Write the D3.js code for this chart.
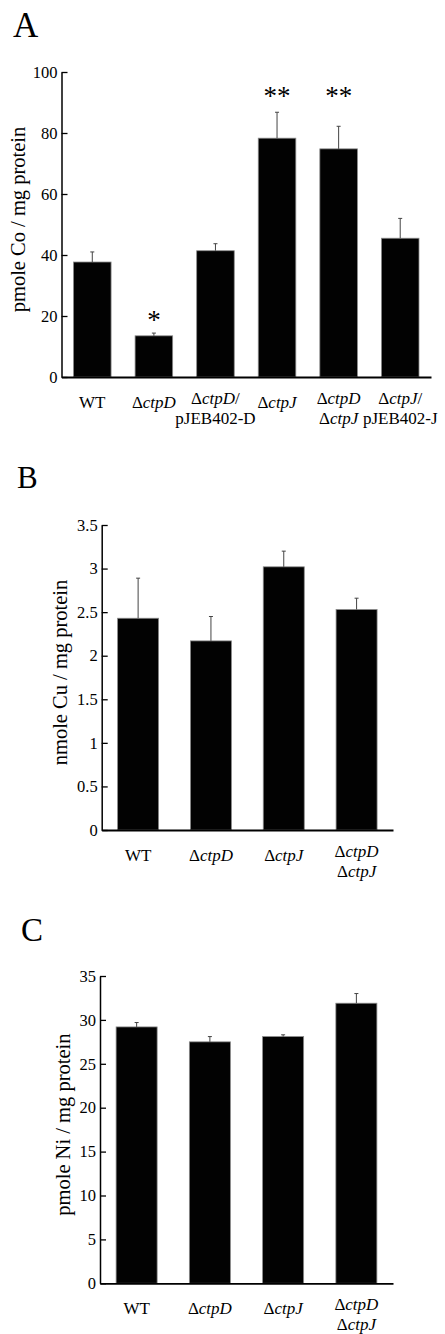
<!DOCTYPE html>
<html>
<head>
<meta charset="utf-8">
<script src="https://cdn.jsdelivr.net/npm/d3@7"></script>
<style>
  body { margin: 0; background: #fff; }
  svg text { font-family: "Liberation Serif", "Times New Roman", "DejaVu Serif", serif; }
</style>
</head>
<body>
<div id="chart"></div>
<script>
// panel A: cobalt
var coLabels = [["WT"], ["ΔctpD"], ["ΔctpD/", "pJEB402-D"], ["ΔctpJ"], ["ΔctpD", "ΔctpJ"], ["ΔctpJ/", "pJEB402-J"]];
var coMean = [37.7, 13.5, 41.4, 78.3, 74.8, 45.5];
var coErr = [3.3, 0.9, 2.3, 8.5, 7.4, 6.5];
var coStars = ["", "*", "", "**", "**", ""];
var coStarAt = [0, 19.6, 0, 93, 93, 0];
var coTicks = [0, 20, 40, 60, 80, 100];

// panel B: copper
var cuLabels = [["WT"], ["ΔctpD"], ["ΔctpJ"], ["ΔctpD", "ΔctpJ"]];
var cuMean = [2.43, 2.17, 3.02, 2.53];
var cuErr = [0.46, 0.28, 0.18, 0.13];
var cuTicks = [0, 0.5, 1, 1.5, 2, 2.5, 3, 3.5];

// panel C: nickel
var niLabels = [["WT"], ["ΔctpD"], ["ΔctpJ"], ["ΔctpD", "ΔctpJ"]];
var niMean = [29.2, 27.5, 28.1, 31.9];
var niErr = [0.5, 0.6, 0.2, 1.1];
var niTicks = [0, 5, 10, 15, 20, 25, 30, 35];

var W = 445, H = 1334;
var SERIF = "Liberation Serif, Times New Roman, DejaVu Serif, serif";
var svg = d3.select("#chart").append("svg")
            .attr("width", W).attr("height", H)
            .attr("font-family", SERIF);
svg.append("rect").attr("width", W).attr("height", H).attr("fill", "#fff");

var panels = [
  {letter: "A", lx: 13, ly: 37, lsize: 35, labels: coLabels, mean: coMean, err: coErr, stars: coStars, starAt: coStarAt,
   ticks: coTicks, max: 100, title: "pmole Co / mg protein", x0: 61.5, x1: 431, y0: 377, y1: 72, pad: 0.39, titleX: 25},
  {letter: "B", lx: 17, ly: 488, lsize: 31, labels: cuLabels, mean: cuMean, err: cuErr,
   ticks: cuTicks, max: 3.5, title: "nmole Cu / mg protein", x0: 101.7, x1: 393, y0: 830, y1: 525, pad: 0.437, titleX: 67},
  {letter: "C", lx: 21, ly: 941, lsize: 33, labels: niLabels, mean: niMean, err: niErr,
   ticks: niTicks, max: 35, title: "pmole Ni / mg protein", x0: 100, x1: 393, y0: 1283.3, y1: 976, pad: 0.44, titleX: 70}
];

panels.forEach(function(p){
  var g = svg.append("g");
  var idx = d3.range(p.mean.length);

  var x = d3.scaleBand().domain(idx).range([p.x0, p.x1])
            .paddingInner(p.pad).paddingOuter(p.pad / 2);
  var y = d3.scaleLinear().domain([0, p.max]).range([p.y0, p.y1]);

  g.append("text").attr("x", p.lx).attr("y", p.ly)
   .attr("font-size", p.lsize).attr("font-family", SERIF).attr("fill", "#000").text(p.letter);

  // bars
  g.selectAll("rect.bar").data(idx).enter().append("rect")
   .attr("class", "bar")
   .attr("x", function(i){return x(i);})
   .attr("y", function(i){return y(p.mean[i]);})
   .attr("width", x.bandwidth())
   .attr("height", function(i){return y(0) - y(p.mean[i]);})
   .attr("fill", "#020202")
   .attr("stroke", "#8a8a8a")
   .attr("stroke-width", 0.8);

  // error bars (upper only)
  var eb = g.selectAll("g.err").data(idx).enter().append("g").attr("class", "err")
            .attr("stroke", "#444").attr("stroke-width", 1);
  eb.append("line")
    .attr("x1", function(i){return x(i) + x.bandwidth()/2;})
    .attr("x2", function(i){return x(i) + x.bandwidth()/2;})
    .attr("y1", function(i){return y(p.mean[i]);})
    .attr("y2", function(i){return y(p.mean[i] + p.err[i]);});
  eb.append("line")
    .attr("x1", function(i){return x(i) + x.bandwidth()/2 - 2;})
    .attr("x2", function(i){return x(i) + x.bandwidth()/2 + 2;})
    .attr("y1", function(i){return y(p.mean[i] + p.err[i]);})
    .attr("y2", function(i){return y(p.mean[i] + p.err[i]);});

  // significance stars
  if (p.stars) {
    g.selectAll("text.star").data(idx.filter(function(i){return p.stars[i];})).enter().append("text")
     .attr("class", "star")
     .attr("x", function(i){return x(i) + x.bandwidth()/2;})
     .attr("y", function(i){return y(p.starAt[i]) + 12;})
     .attr("text-anchor", "middle")
     .attr("font-size", 27)
     .attr("font-family", SERIF)
     .text(function(i){return p.stars[i];});
  }

  // y axis, ticks pointing inward
  var ya = g.append("g").attr("transform", "translate(" + p.x0 + ",0)")
            .call(d3.axisLeft(y).tickValues(p.ticks).tickSizeInner(-6).tickSizeOuter(0)
                    .tickPadding(4).tickFormat(d3.format("")));
  ya.attr("font-family", SERIF).attr("font-size", 16.5);
  ya.select(".domain").attr("stroke", "#000").attr("stroke-width", 1.5);
  ya.selectAll(".tick line").attr("stroke", "#000").attr("stroke-width", 1.3);
  ya.selectAll(".tick text").attr("font-size", 16.5).attr("fill", "#000")
    .attr("font-family", SERIF);

  // x baseline
  var xa = g.append("g").attr("transform", "translate(0," + p.y0 + ")")
            .call(d3.axisBottom(x).tickSize(0).tickFormat(""));
  xa.select(".domain").attr("stroke", "#000").attr("stroke-width", 1.8);

  // category labels with italic gene names
  idx.forEach(function(i){
    var lines = p.labels[i];
    var cx = x(i) + x.bandwidth()/2;
    lines.forEach(function(line, k){
      var ty = lines.length > 1 ? p.y0 + 27 + k*20 : p.y0 + 31;
      var t = g.append("text").attr("x", cx).attr("y", ty)
               .attr("text-anchor", "middle").attr("font-size", 17)
               .attr("font-family", SERIF).attr("fill", "#000");
      line.split(/(ctp[DJ])/).filter(String).forEach(function(s){
        t.append("tspan").attr("font-style", /^ctp/.test(s) ? "italic" : "normal").text(s);
      });
    });
  });

  // y title
  g.append("text")
   .attr("transform", "translate(" + p.titleX + "," + ((p.y0 + p.y1)/2 - 5) + ") rotate(-90)")
   .attr("text-anchor", "middle").attr("font-size", 20.5).attr("font-family", SERIF).attr("fill", "#000")
   .text(p.title);
});
</script>
</body>
</html>
